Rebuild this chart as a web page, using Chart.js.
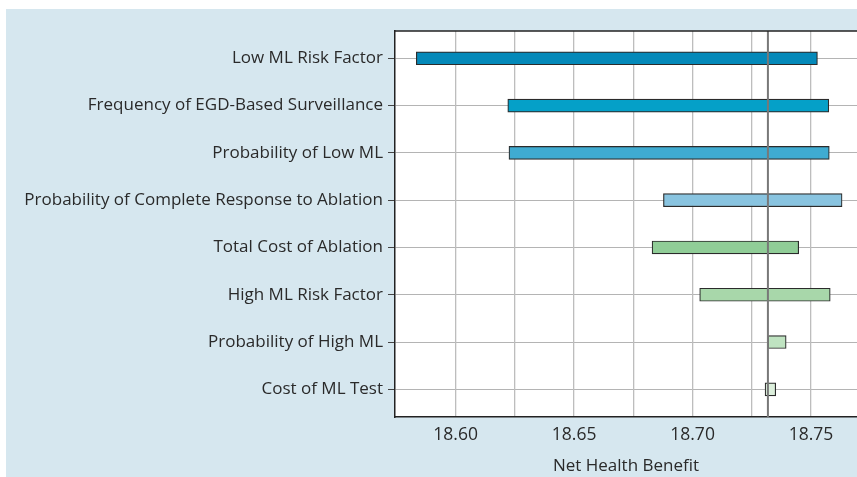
<!DOCTYPE html>
<html>
<head>
<meta charset="utf-8">
<script src="https://cdn.jsdelivr.net/npm/chart.js@4/dist/chart.umd.min.js"></script>
<style>
    body { margin: 0; background: #fff; }
    .panel { position: absolute; left: 6px; top: 9px; width: 851px; height: 468px; background: #d6e7ef; }
</style>
</head>
<body>
<div class="panel"><canvas id="tornado" width="851" height="468"></canvas></div>
<script>
// DATA
const labels = [
    'Low ML Risk Factor',
    'Frequency of EGD-Based Surveillance',
    'Probability of Low ML',
    'Probability of Complete Response to Ablation',
    'Total Cost of Ablation',
    'High ML Risk Factor',
    'Probability of High ML',
    'Cost of ML Test'
];
const lowValues = [18.5834, 18.6220, 18.6225, 18.6877, 18.6829, 18.7030, 18.7318, 18.7306];
const highValues = [18.7527, 18.7575, 18.7577, 18.7631, 18.7448, 18.7581, 18.7395, 18.7351];
const baseValue = 18.7318;
const xTicks = [18.600, 18.625, 18.650, 18.675, 18.700, 18.725, 18.750];

const barColors = ['#0489b9', '#05a0c8', '#3fabd1', '#89c4e0', '#90cd97', '#a8d7aa', '#bfe3c1', '#dcefdc'];

// FRAME + BASE LINE
const framePlugin = {
    id: 'frame',
    afterDatasetsDraw(chart) {
        const { ctx, chartArea: a, scales } = chart;
        const xb = scales.x.getPixelForValue(baseValue);
        ctx.save();
        ctx.strokeStyle = '#787878';
        ctx.lineWidth = 2;
        ctx.beginPath();
        ctx.moveTo(xb, a.top);
        ctx.lineTo(xb, a.bottom);
        ctx.stroke();
        ctx.strokeStyle = '#222';
        ctx.lineWidth = 1.5;
        ctx.beginPath();
        ctx.moveTo(a.left, a.top);
        ctx.lineTo(a.right, a.top);
        ctx.stroke();
        ctx.restore();
    },
    beforeDraw(chart) {
        const { ctx, chartArea: a } = chart;
        ctx.save();
        ctx.fillStyle = '#fff';
        ctx.fillRect(a.left, a.top, a.right - a.left, a.bottom - a.top);
        ctx.restore();
    }
};

new Chart(document.getElementById('tornado'), {
    type: 'bar',
    data: {
        datasets: [{
            data: labels.map((_, i) => ({ y: i, x: [lowValues[i], highValues[i]] })),
            backgroundColor: barColors,
            borderColor: '#2b2b2b',
            borderWidth: 1.2,
            borderSkipped: false,
            barThickness: 13
        }]
    },
    plugins: [framePlugin],
    options: {
        indexAxis: 'y',
        responsive: false,
        animation: false,
        layout: { padding: { top: 22, left: 0, right: 0, bottom: 0 } },
        plugins: {
            legend: { display: false },
            tooltip: { enabled: false }
        },
        scales: {
            y: {
                type: 'linear',
                reverse: true,
                offset: false,
                min: -0.577,
                max: 7.585,
                afterBuildTicks: (axis) => { axis.ticks = labels.map((_, i) => ({ value: i })); },
                afterFit: (axis) => { axis.width = 389; },
                grid: { offset: false, color: '#b4b4b4', lineWidth: 1, tickLength: 7, tickColor: '#444' },
                border: { color: '#222', width: 1.5 },
                ticks: {
                    color: '#2a2a2a',
                    padding: 5,
                    font: { family: 'Open Sans', size: 17 },
                    callback: (v) => labels[v]
                }
            },
            x: {
                type: 'linear',
                min: 18.5744,
                max: 18.7694,
                afterBuildTicks: (axis) => { axis.ticks = xTicks.map(v => ({ value: v })); },
                afterFit: (axis) => { axis.height = 60; },
                grid: { color: '#bdbdbd', lineWidth: 1.3, drawTicks: false },
                border: { color: '#222', width: 1.5 },
                ticks: {
                    color: '#2a2a2a',
                    padding: 8,
                    maxRotation: 0,
                    autoSkip: false,
                    font: { family: 'Open Sans', size: 17.5 },
                    callback: (v, i) => (i % 2 === 0 ? v.toFixed(2) : '')
                },
                title: {
                    display: true,
                    text: 'Net Health Benefit',
                    color: '#2a2a2a',
                    font: { family: 'Open Sans', size: 17 },
                    padding: { top: 0, bottom: 1 }
                }
            }
        }
    }
});
</script>
</body>
</html>
